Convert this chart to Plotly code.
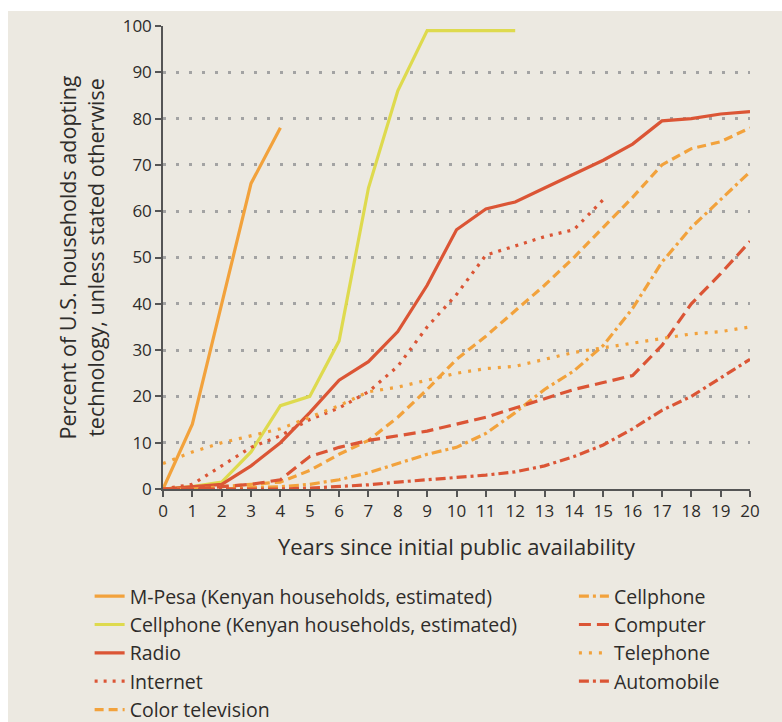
import plotly.graph_objects as go

# Years since each technology became publicly available
years = list(range(0, 21))

# Adoption share (% of households) per technology, one value per year
mpesa = [0, 14, 40, 66, 78]
cell_kenya = [0, 0.5, 1.5, 8, 18, 20, 32, 65, 86, 99, 99, 99, 99]
radio = [0, 0.5, 1, 5, 10, 16.5, 23.5, 27.5, 34, 44, 56, 60.5, 62, 65, 68,
         71, 74.5, 79.5, 80, 81, 81.5]
internet = [0, 1, 5, 9, 11.5, 15, 17.5, 21, 26.5, 35, 42, 50.5, 52.5, 54.5,
            56, 62.5]
color_tv = [0, 0, 0.5, 1, 1.5, 4, 7.5, 10.5, 15.5, 21.5, 28, 33, 38.5, 44,
            50, 56.5, 63, 70, 73.5, 75, 78]
cell_us = [0, 0, 0, 0.3, 0.5, 1, 2, 3.5, 5.5, 7.5, 9, 12, 16.5, 21.5, 25.5,
           31, 39, 49, 56.5, 62.5, 68.5]
computer = [0, 0, 0.5, 1, 2, 7, 9, 10.5, 11.5, 12.5, 14, 15.5, 17.5, 19.5,
            21.5, 23, 24.5, 31, 40, 46.5, 53.5]
telephone = [5.5, 8, 10, 11.5, 13, 15.5, 18, 21, 22, 23.5, 25, 26, 26.5, 28,
             29.5, 30.5, 31.5, 32.5, 33.5, 34, 35]
automobile = [0, 0, 0, 0, 0, 0.2, 0.5, 0.9, 1.5, 2, 2.5, 3, 3.7, 5, 7, 9.5,
              13, 17, 20, 24, 28]

x_ticks = list(range(0, 21))
y_ticks = list(range(0, 101, 10))

ORANGE = "#F2A23C"
YELLOW = "#DEDA4E"
RED = "#DB5535"
TEXT = "#2E2C2A"
BG = "#ECE9E1"
FONT = "Open Sans, sans-serif"

series = [
    ("M-Pesa (Kenyan households, estimated)", mpesa, ORANGE, "solid", "legend"),
    ("Cellphone (Kenyan households, estimated)", cell_kenya, YELLOW, "solid", "legend"),
    ("Radio", radio, RED, "solid", "legend"),
    ("Internet", internet, RED, "3px,6px", "legend"),
    ("Color television", color_tv, ORANGE, "9px,5px", "legend"),
    ("Cellphone", cell_us, ORANGE, "10px,4px,3px,4px", "legend2"),
    ("Computer", computer, RED, "12px,6px", "legend2"),
    ("Telephone", telephone, ORANGE, "3px,7px", "legend2"),
    ("Automobile", automobile, RED, "10px,4px,3px,4px", "legend2"),
]

fig = go.Figure()
for i, (name, vals, color, dash, leg) in enumerate(series):
    fig.add_trace(go.Scatter(
        x=years[:len(vals)], y=vals, name=name, mode="lines",
        line=dict(color=color, width=3.2, dash=dash),
        legend=leg, legendgroup=f"g{i}",
    ))

legend_style = dict(
    orientation="v", xanchor="left", yanchor="top",
    bgcolor="rgba(0,0,0,0)", font=dict(family=FONT, size=19.5, color=TEXT),
    tracegroupgap=0, itemwidth=30,
)

fig.update_layout(
    width=782, height=722,
    paper_bgcolor=BG, plot_bgcolor=BG,
    margin=dict(l=163, r=32, t=26, b=233, autoexpand=False),
    font=dict(family=FONT, size=17, color=TEXT),
    showlegend=True,
    legend=dict(x=-0.125, y=-0.19, **legend_style),
    legend2=dict(x=0.70, y=-0.19, **legend_style),
    xaxis=dict(
        range=[0, 20], tickvals=x_ticks, ticks="outside", ticklen=6,
        tickwidth=1.5, tickcolor="#555", showline=True, linecolor="#555",
        linewidth=1.5, showgrid=False, zeroline=False,
        tickfont=dict(size=17, color=TEXT),
        title=dict(text="Years since initial public availability",
                   font=dict(size=22, color=TEXT), standoff=18),
    ),
    yaxis=dict(
        range=[0, 100], tickvals=y_ticks, ticks="outside", ticklen=6,
        tickwidth=1.5, tickcolor="#555", showline=True, linecolor="#555",
        linewidth=1.5, showgrid=True, gridcolor="#A3A3A3", gridwidth=2.5,
        griddash="3px,10px", zeroline=False,
        tickfont=dict(size=17, color=TEXT),
        title=dict(text="Percent of U.S. households adopting<br>technology, unless stated otherwise",
                   font=dict(size=21.5, color=TEXT), standoff=12),
    ),
    shapes=[
        dict(type="rect", xref="paper", yref="paper", x0=-0.28, x1=1.06,
             y0=1.0324, y1=1.06, fillcolor="white", line=dict(width=0),
             layer="above"),
        dict(type="rect", xref="paper", yref="paper", x0=-0.28, x1=-0.2641,
             y0=-0.6, y1=1.06, fillcolor="white", line=dict(width=0),
             layer="above"),
    ],
)

fig.write_html("out.html")
